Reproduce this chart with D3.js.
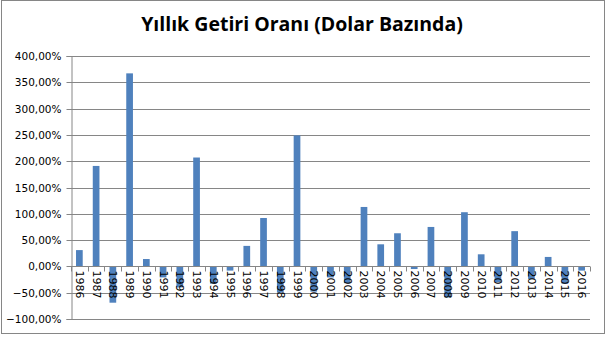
<!DOCTYPE html>
<html>
<head>
<meta charset="utf-8">
<script src="https://cdn.jsdelivr.net/npm/d3@7"></script>
<style>
  body { margin: 0; background: #fff; }
  svg { display: block; }
</style>
</head>
<body>
<div id="chart"></div>
<script>
// Données
const years = ['1986', '1987', '1988', '1989', '1990', '1991', '1992', '1993', '1994', '1995',
    '1996', '1997', '1998', '1999', '2000', '2001', '2002', '2003', '2004', '2005',
    '2006', '2007', '2008', '2009', '2010', '2011', '2012', '2013', '2014', '2015', '2016'];
const returns = [31, 191, -69, 367, 14, -21, -40, 207, -33, -8,
    39, 92, -50, 249, -48, -21, -32, 113, 42, 63,
    -5, 75, -59, 103, 23, -30, 67, -24, 18, -33, -8];
const yTicks = [-100, -50, 0, 50, 100, 150, 200, 250, 300, 350, 400];
const title = 'Yıllık Getiri Oranı (Dolar Bazında)';

const width = 608, height = 337;
const margin = { top: 56, right: 18, bottom: 18, left: 71 };
const innerWidth = width - margin.left - margin.right;
const innerHeight = height - margin.top - margin.bottom;

const svg = d3.select('#chart').append('svg')
    .attr('width', width)
    .attr('height', height);

// Cadre extérieur
svg.append('rect')
    .attr('x', 1.5).attr('y', 0.5)
    .attr('width', 603).attr('height', 333)
    .attr('fill', '#fff')
    .attr('stroke', '#868686');

svg.append('text')
    .attr('x', 302)
    .attr('y', 31)
    .attr('text-anchor', 'middle')
    .style('font-family', '"Open Sans", sans-serif')
    .style('font-weight', 'bold')
    .style('font-size', '19.5px')
    .style('fill', '#000')
    .text(title);

const g = svg.append('g')
    .attr('transform', `translate(${margin.left},${margin.top})`);

const xScale = d3.scaleBand()
    .domain(years)
    .range([0, innerWidth])
    .paddingInner(0.6)
    .paddingOuter(0.3);

const yScale = d3.scaleLinear()
    .domain([-100, 400])
    .range([innerHeight, 0]);

// Grille horizontale
g.selectAll('.grid')
    .data(yTicks)
    .enter()
    .append('line')
    .attr('x1', 0)
    .attr('x2', innerWidth)
    .attr('y1', d => Math.round(yScale(d)) + 0.5)
    .attr('y2', d => Math.round(yScale(d)) + 0.5)
    .attr('stroke', '#868686');

// Axe Y
const yAxis = d3.axisLeft(yScale)
    .tickValues(yTicks)
    .tickSize(5)
    .tickPadding(5)
    .tickFormat(d => d3.format('.2f')(d).replace('.', ',') + '%');

const yg = g.append('g')
    .attr('transform', 'translate(0.5,0)')
    .call(yAxis);
yg.selectAll('.tick').attr('transform', d => `translate(0,${Math.round(yScale(d)) + 0.5})`);
yg.selectAll('text')
    .style('font-family', '"DejaVu Sans", sans-serif')
    .style('font-size', '10.5px')
    .style('fill', '#000');
yg.selectAll('path, line').attr('stroke', '#868686');

// Barres
g.selectAll('.bar')
    .data(returns)
    .enter()
    .append('rect')
    .attr('class', 'bar')
    .attr('x', (d, i) => xScale(years[i]))
    .attr('y', d => yScale(Math.max(0, d)))
    .attr('width', xScale.bandwidth())
    .attr('height', d => Math.abs(yScale(d) - yScale(0)))
    .attr('fill', '#4f81bd');

// Axe X sur la ligne zéro
const zeroY = Math.round(yScale(0)) + 0.5;
const xg = g.append('g').attr('transform', `translate(0,${zeroY})`);

xg.append('line')
    .attr('x1', 0).attr('x2', innerWidth)
    .attr('stroke', '#868686');

const bounds = d3.range(years.length + 1).map(i => innerWidth * i / years.length);
xg.selectAll('.xtick')
    .data(bounds)
    .enter()
    .append('line')
    .attr('x1', d => Math.round(d) + 0.5)
    .attr('x2', d => Math.round(d) + 0.5)
    .attr('y1', 0)
    .attr('y2', 5)
    .attr('stroke', '#868686');

xg.selectAll('.xlabel')
    .data(years)
    .enter()
    .append('text')
    .attr('transform', d => `translate(${xScale(d) + xScale.bandwidth() / 2 - 3.5},4) rotate(90)`)
    .style('font-family', '"DejaVu Sans", sans-serif')
    .style('font-size', '11px')
    .style('fill', '#000')
    .text(d => d);
</script>
</body>
</html>
